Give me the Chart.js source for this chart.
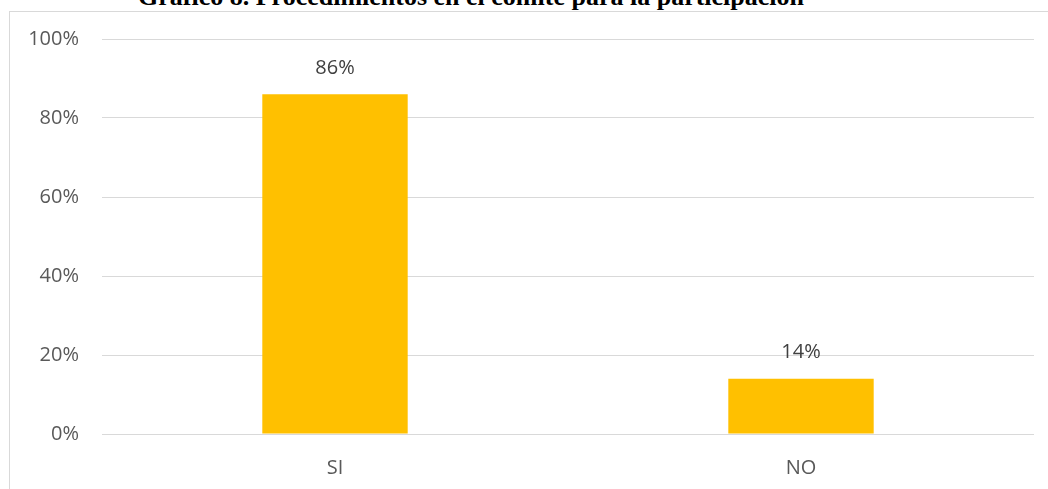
<!DOCTYPE html>
<html lang="es">
<head>
<meta charset="utf-8">
<title>Gráfico 8</title>
<script src="https://cdn.jsdelivr.net/npm/chart.js@4/dist/chart.umd.min.js"></script>
<style>
  html, body { margin: 0; padding: 0; width: 1048px; height: 489px; overflow: hidden; background: #fff; }
  .frame { position: absolute; left: 9px; top: 11px; width: 1100px; height: 600px; border: 1px solid #d9d9d9; box-sizing: border-box; }
  .doc-title {
    position: absolute; left: 0; top: -16px; width: 942px; text-align: center;
    font: bold 26px/26px "Liberation Serif", "Times New Roman", serif; color: #000; white-space: nowrap;
  }
  #chart { position: absolute; left: 0; top: 0; }
</style>
</head>
<body>
<div class="frame"></div>
<div class="doc-title">Gráfico 8. Procedimientos en el comité para la participación</div>
<canvas id="chart" width="1048" height="489"></canvas>
<script>
const categories = ['SI', 'NO'];
const percentValues = [86, 14];
const yTicks = [0, 20, 40, 60, 80, 100];

const labelFont = { family: '"Open Sans", "Noto Sans", sans-serif', size: 20 };

// value labels above each bar
const valueLabels = {
  id: 'valueLabels',
  afterDatasetsDraw(chart) {
    const { ctx } = chart;
    const meta = chart.getDatasetMeta(0);
    ctx.save();
    ctx.font = `${labelFont.size}px ${labelFont.family}`;
    ctx.fillStyle = '#404040';
    ctx.textAlign = 'center';
    ctx.textBaseline = 'middle';
    meta.data.forEach((bar, i) => {
      ctx.fillText(`${percentValues[i]}%`, bar.x, bar.y - 26);
    });
    ctx.restore();
  },
};

new Chart(document.getElementById('chart'), {
  type: 'bar',
  data: {
    labels: categories,
    datasets: [
      {
        data: percentValues,
        backgroundColor: '#FFC000',
        barPercentage: 0.312,
        categoryPercentage: 1,
      },
    ],
  },
  options: {
    responsive: false,
    animation: false,
    layout: { padding: { top: 39, right: 14, left: 0, bottom: 0 } },
    plugins: { legend: { display: false }, tooltip: { enabled: false } },
    scales: {
      x: {
        grid: { display: false },
        border: { display: false },
        ticks: { color: '#595959', font: labelFont, padding: 14 },
        afterFit: (scale) => { scale.height = 55; },
      },
      y: {
        min: 0,
        max: 100,
        afterBuildTicks: (scale) => { scale.ticks = yTicks.map((value) => ({ value })); },
        grid: { color: '#d9d9d9', lineWidth: 1, drawTicks: false },
        border: { display: false },
        ticks: { color: '#595959', font: labelFont, padding: 23, callback: (value) => `${value}%` },
        afterFit: (scale) => { scale.width = 102; },
      },
    },
  },
  plugins: [valueLabels],
});
</script>
</body>
</html>
